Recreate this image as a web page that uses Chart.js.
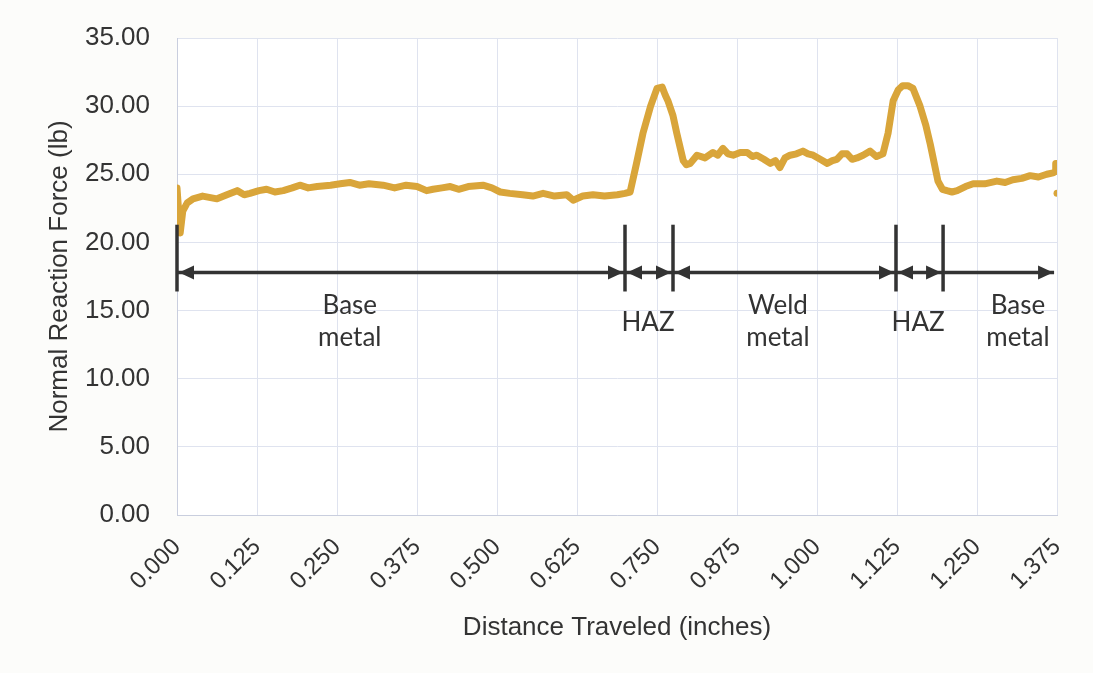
<!DOCTYPE html>
<html lang="en">
<head>
  <meta charset="UTF-8" />
  <title>Normal Reaction Force</title>
  <style>
    html, body {
      margin: 0;
      padding: 0;
      background: rgb(252, 252, 250);
    }

    .wrap {
      width: 1093px;
      height: 673px;
    }
  </style>
</head>
<body>
  <div class="wrap">
    <canvas id="myChart" width="1093" height="673"></canvas>
  </div>
  <script src="https://cdn.jsdelivr.net/npm/chart.js@4/dist/chart.umd.min.js"></script>
  <script>
    // distance traveled (inches)
    const distance = [
      0.000, 0.005, 0.009, 0.016, 0.025, 0.040, 0.0625, 0.078, 0.094, 0.105,
      0.114, 0.128, 0.140, 0.153, 0.166, 0.180, 0.192, 0.205, 0.219, 0.240,
      0.255, 0.270, 0.285, 0.300, 0.322, 0.340, 0.358, 0.375, 0.390, 0.400,
      0.414, 0.427, 0.440, 0.455, 0.478, 0.492, 0.505, 0.520, 0.540, 0.556,
      0.572, 0.590, 0.609, 0.619, 0.634, 0.650, 0.668, 0.688, 0.700, 0.708,
      0.718, 0.728, 0.740, 0.750, 0.758, 0.763, 0.767, 0.775, 0.781, 0.791,
      0.796, 0.802, 0.8125, 0.825, 0.8375, 0.845, 0.853, 0.861, 0.869, 0.880,
      0.891, 0.899, 0.906, 0.917, 0.927, 0.935, 0.942, 0.950, 0.958, 0.968,
      0.978, 0.986, 0.994, 1.005, 1.016, 1.024, 1.031, 1.039, 1.047, 1.055,
      1.0625, 1.072, 1.083, 1.093, 1.103, 1.111, 1.119, 1.127, 1.134, 1.142,
      1.150, 1.161, 1.170, 1.177, 1.189, 1.196, 1.203, 1.211, 1.219, 1.232,
      1.244, 1.262, 1.281, 1.294, 1.306, 1.320, 1.333, 1.346, 1.359, 1.369,
      1.372, 1.373
    ];
    // normal reaction force (lb)
    const force = [
      24.0, 20.7, 22.3, 22.9, 23.2, 23.4, 23.2, 23.5, 23.8, 23.5,
      23.6, 23.8, 23.9, 23.7, 23.8, 24.0, 24.2, 24.0, 24.1, 24.2,
      24.3, 24.4, 24.2, 24.3, 24.2, 24.0, 24.2, 24.1, 23.8, 23.9,
      24.0, 24.1, 23.9, 24.1, 24.2, 24.0, 23.7, 23.6, 23.5, 23.4,
      23.6, 23.4, 23.5, 23.1, 23.4, 23.5, 23.4, 23.5, 23.6, 23.7,
      25.8, 28.0, 30.0, 31.3, 31.4, 30.8, 30.4, 29.3, 28.0, 26.0,
      25.7, 25.8, 26.4, 26.2, 26.6, 26.4, 26.9, 26.5, 26.4, 26.6,
      26.6, 26.3, 26.4, 26.1, 25.8, 26.0, 25.5, 26.2, 26.4, 26.5,
      26.7, 26.5, 26.4, 26.1, 25.8, 26.0, 26.1, 26.5, 26.5, 26.1,
      26.2, 26.4, 26.7, 26.3, 26.5, 28.0, 30.4, 31.2, 31.5, 31.5,
      31.3, 30.0, 28.6, 27.2, 24.5, 23.9, 23.8, 23.7, 23.8, 24.1,
      24.3, 24.3, 24.5, 24.4, 24.6, 24.7, 24.9, 24.8, 25.0, 25.1,
      25.2, 25.8
    ];
    // stray reading at the end of the run
    const strayDistance = [1.375];
    const strayForce = [23.6];

    // zone markers (inches) and their labels
    const zoneEdges = [0.000, 0.700, 0.775, 1.1234, 1.197];
    const zoneArrowEnd = 1.372;
    const zoneLabels = [
      { x: 0.270, lines: ["Base", "metal"] },
      { x: 0.736, lines: ["HAZ"] },
      { x: 0.939, lines: ["Weld", "metal"] },
      { x: 1.158, lines: ["HAZ"] },
      { x: 1.314, lines: ["Base", "metal"] }
    ];

    const lineData = distance.map((d, i) => ({ x: d, y: force[i] }));
    const strayData = strayDistance.map((d, i) => ({ x: d, y: strayForce[i] }));

    const ink = "#333";
    const arial = "'Liberation Sans', Arial, sans-serif";

    function arrowHead(ctx, x, y, dir) {
      ctx.beginPath();
      ctx.moveTo(x, y);
      ctx.lineTo(x - dir * 15, y - 7);
      ctx.lineTo(x - dir * 15, y + 7);
      ctx.closePath();
      ctx.fill();
    }

    const zonePlugin = {
      id: "zones",
      afterDatasetsDraw(chart) {
        const ctx = chart.ctx;
        const xs = chart.scales.x;
        const ys = chart.scales.y;
        const top = ys.getPixelForValue(21.3);
        const bot = ys.getPixelForValue(16.4);
        const ay = ys.getPixelForValue(17.8);
        ctx.save();
        ctx.strokeStyle = ink;
        ctx.fillStyle = ink;
        ctx.lineWidth = 3.5;
        zoneEdges.forEach(e => {
          const px = xs.getPixelForValue(e);
          ctx.beginPath();
          ctx.moveTo(px, top);
          ctx.lineTo(px, bot);
          ctx.stroke();
        });
        for (let i = 0; i < zoneEdges.length; i++) {
          const a = xs.getPixelForValue(zoneEdges[i]);
          const last = i == zoneEdges.length - 1;
          const b = xs.getPixelForValue(last ? zoneArrowEnd : zoneEdges[i + 1]);
          ctx.beginPath();
          ctx.moveTo(a + 1, ay);
          ctx.lineTo(b - 1, ay);
          ctx.stroke();
          if (!last) arrowHead(ctx, a + 2, ay, -1);
          arrowHead(ctx, b - 2, ay, 1);
        }
        ctx.font = "26px Lato, 'Open Sans', sans-serif";
        ctx.textAlign = "center";
        ctx.textBaseline = "middle";
        zoneLabels.forEach(l => {
          const px = xs.getPixelForValue(l.x);
          if (l.lines.length == 1) {
            ctx.fillText(l.lines[0], px, ys.getPixelForValue(14.1));
          } else {
            ctx.fillText(l.lines[0], px, ys.getPixelForValue(15.4));
            ctx.fillText(l.lines[1], px, ys.getPixelForValue(13.0));
          }
        });
        ctx.restore();
      }
    };

    const plotBg = {
      id: "plotBg",
      beforeDraw(chart) {
        const a = chart.chartArea;
        chart.ctx.save();
        chart.ctx.fillStyle = "#ffffff";
        chart.ctx.fillRect(a.left, a.top, a.right - a.left, a.bottom - a.top);
        chart.ctx.restore();
      }
    };

    const ctx = document.getElementById("myChart").getContext("2d");
    const myChart = new Chart(ctx, {
      type: "line",
      data: {
        datasets: [
          {
            label: "Normal Reaction Force",
            data: lineData,
            borderColor: "#d9a53a",
            borderWidth: 7,
            pointRadius: 0,
            fill: false,
            tension: 0,
            borderCapStyle: "round",
            borderJoinStyle: "round"
          },
          {
            label: "stray",
            data: strayData,
            showLine: false,
            pointRadius: 3.5,
            pointBackgroundColor: "#d9a53a",
            pointBorderWidth: 0
          }
        ]
      },
      options: {
        responsive: false,
        animation: false,
        layout: { padding: { left: 44, top: 38, right: 36, bottom: 28 } },
        plugins: {
          legend: { display: false },
          tooltip: { enabled: false }
        },
        scales: {
          x: {
            type: "linear",
            min: 0,
            max: 1.375,
            afterFit(scale) {
              scale.height = 130;
              scale.paddingLeft = 0;
              scale.paddingRight = 0;
            },
            afterBuildTicks(scale) {
              scale.ticks = [];
              for (let i = 0; i <= 11; i++) scale.ticks.push({ value: i * 0.125 });
            },
            ticks: {
              autoSkip: false,
              minRotation: 45,
              maxRotation: 45,
              padding: 18,
              color: ink,
              font: { family: arial, size: 24 },
              callback: v => Number(v).toFixed(3)
            },
            grid: { color: "#dfe3ef", drawTicks: false, lineWidth: 1 },
            border: { color: "#c9cede" },
            title: {
              display: true,
              text: "Distance Traveled (inches)",
              color: ink,
              padding: { top: 4, bottom: 2 },
              font: { family: arial, size: 26 }
            }
          },
          y: {
            min: 0,
            max: 35,
            afterFit(scale) {
              scale.width = 133;
              scale.paddingTop = 0;
              scale.paddingBottom = 0;
            },
            ticks: {
              stepSize: 5,
              padding: 27,
              color: ink,
              font: { family: arial, size: 26 },
              callback: v => Number(v).toFixed(2)
            },
            grid: { color: "#dfe3ef", drawTicks: false, lineWidth: 1 },
            border: { color: "#c9cede" },
            title: {
              display: true,
              text: "Normal Reaction Force (lb)",
              color: ink,
              padding: 0,
              font: { family: arial, size: 26 }
            }
          }
        }
      },
      plugins: [plotBg, zonePlugin]
    });
  </script>
</body>
</html>
